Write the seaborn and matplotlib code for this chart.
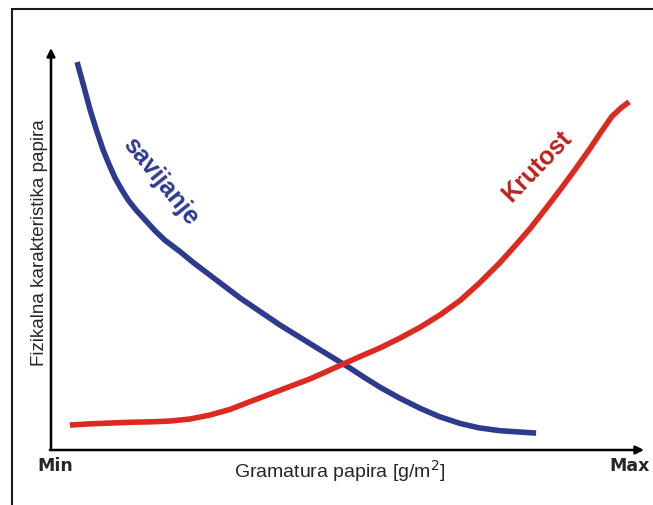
import matplotlib
matplotlib.use("Agg")
import matplotlib.pyplot as plt
import seaborn as sns
import pandas as pd
from matplotlib.patches import Rectangle

# vrijednosti ocitane sa slike (relativna skala 0-10)
savijanje_x = [0.44, 0.55, 0.66, 0.77, 0.88, 0.98, 1.08, 1.19, 1.30, 1.44, 1.59, 1.75,
               1.92, 2.18, 2.42, 2.68, 3.19, 3.52, 3.86, 4.20, 4.54, 5.04, 5.30, 5.55,
               5.88, 6.22, 6.55, 6.90, 7.22, 7.57, 8.18]
savijanje_y = [9.65, 9.06, 8.46, 7.94, 7.46, 7.10, 6.77, 6.48, 6.22, 5.96, 5.72, 5.46,
               5.22, 4.93, 4.64, 4.35, 3.78, 3.45, 3.11, 2.80, 2.49, 2.04, 1.79, 1.56,
               1.29, 1.04, 0.83, 0.66, 0.55, 0.48, 0.42]
krutost_x = [0.32, 0.65, 0.99, 1.33, 1.67, 2.00, 2.34, 2.68, 3.02, 3.35, 3.69, 4.03,
             4.37, 4.66, 4.96, 5.25, 5.55, 5.88, 6.22, 6.56, 6.90, 7.23, 7.57, 7.82,
             8.08, 8.33, 8.58, 8.84, 9.09, 9.28, 9.46, 9.62, 9.75]
krutost_y = [0.62, 0.65, 0.67, 0.69, 0.70, 0.72, 0.77, 0.87, 1.01, 1.20, 1.39, 1.58,
             1.77, 1.96, 2.16, 2.35, 2.54, 2.78, 3.05, 3.36, 3.72, 4.16, 4.66, 5.07,
             5.51, 5.98, 6.46, 6.98, 7.50, 7.92, 8.30, 8.52, 8.66]

BLUE = '#2d3a8e'
RED = '#dc2a20'

sns.set_style('white')
plt.rcParams['font.family'] = ['Liberation Sans', 'DejaVu Sans']

fig = plt.figure(figsize=(6.53, 5.05), dpi=100)
W, H = 653, 505
ax = fig.add_axes([51 / W, 1 - 450 / H, 593 / W, 402 / H])
ax.set_xlim(0, 10)
ax.set_ylim(0, 10)
ax.axis('off')

df_s = pd.DataFrame({'x': savijanje_x, 'y': savijanje_y})
df_k = pd.DataFrame({'x': krutost_x, 'y': krutost_y})
sns.lineplot(data=df_s, x='x', y='y', sort=False, color=BLUE, linewidth=4, ax=ax,
             solid_capstyle='butt', solid_joinstyle='round')
sns.lineplot(data=df_k, x='x', y='y', sort=False, color=RED, linewidth=4, ax=ax,
             solid_capstyle='butt', solid_joinstyle='round')

# osi sa strelicama
arrow = dict(arrowstyle='-|>', color='black', lw=1.8, mutation_scale=12,
             shrinkA=0, shrinkB=0)
ax.annotate('', xy=(10, 0), xytext=(-0.02, 0), arrowprops=arrow, annotation_clip=False)
ax.annotate('', xy=(0, 10), xytext=(0, 0), arrowprops=arrow, annotation_clip=False)

ax.text(1.85, 6.69, 'savijanje', color=BLUE, fontsize=18, fontweight='bold',
        rotation=-51, ha='center', va='center', rotation_mode='anchor')
ax.text(8.20, 7.06, 'Krutost', color='#b8221c', fontsize=18, fontweight='bold',
        rotation=46, ha='center', va='center', rotation_mode='anchor')

fig.text(40 / W, 1 - 243 / H, 'Fizikalna karakteristika papira', fontsize=13.5,
         rotation=90, ha='center', va='center')
fig.text(340 / W, 1 - 471 / H, 'Gramatura papira [g/m$^2$]', fontsize=14,
         ha='center', va='center')
fig.text(55.5 / W, 1 - 466 / H, 'Min', fontsize=12.5, fontweight='bold',
         family='DejaVu Sans', ha='center', va='center')
fig.text(630 / W, 1 - 466 / H, 'Max', fontsize=12.5, fontweight='bold',
         family='DejaVu Sans', ha='center', va='center')

# okvir slike
fig.patches.append(Rectangle((12 / W, -0.1), 1.2, 1 - 9 / H + 0.1, transform=fig.transFigure,
                             fill=False, edgecolor='#1a1a1a', lw=1.5))

fig.savefig('out.png', dpi=100)
